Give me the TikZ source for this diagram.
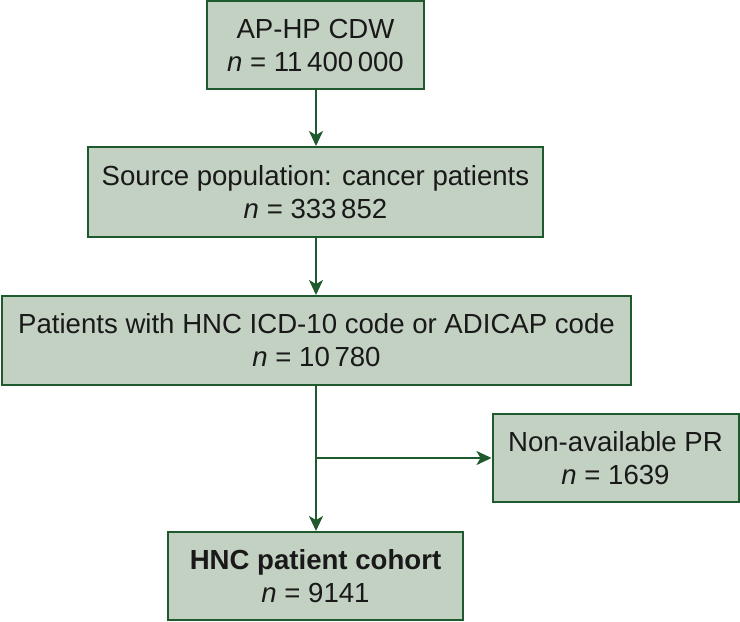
\documentclass[tikz,border=0pt]{standalone}
\usepackage{fontspec}
\setmainfont{Liberation Sans}
\usetikzlibrary{arrows.meta}
\definecolor{boxfill}{HTML}{C3D1C2}
\definecolor{boxline}{HTML}{1E5A2E}
\begin{document}
\begin{tikzpicture}[x=1pt,y=-1pt,
  box/.style={draw=boxline,fill=boxfill,line width=2pt,align=center,inner sep=0pt,
    font=\fontsize{27.6}{33}\selectfont,text=black!90},
  conn/.style={draw=boxline,line width=2pt,-{Stealth[length=15pt,width=14pt,inset=4pt]}}]
\useasboundingbox (0,0) rectangle (740,622);
\node[box,minimum width=217pt,minimum height=88pt] (a) at (315.5,45) {AP-HP CDW\\\textit{n} = 11\,400\,000};
\node[box,minimum width=455pt,minimum height=90pt] (b) at (315.5,192) {Source population: cancer patients\\\textit{n} = 333\,852};
\node[box,minimum width=629pt,minimum height=89pt] (c) at (316.5,340.5) {Patients with HNC ICD-10 code or ADICAP code\\\textit{n} = 10\,780};
\node[box,minimum width=246pt,minimum height=88pt] (d) at (615.5,458) {Non-available PR\\\textit{n} = 1639};
\node[box,minimum width=295pt,minimum height=88pt] (e) at (315.5,576) {\textbf{HNC patient cohort}\\\textit{n} = 9141};
\coordinate (br) at (316,458);
\draw[conn] (a.south -| br) -- (b.north -| br);
\draw[conn] (b.south -| br) -- (c.north -| br);
\draw[conn] (c.south -| br) -- (e.north -| br);
\draw[conn] (br) -- (d.west);
\end{tikzpicture}
\end{document}
